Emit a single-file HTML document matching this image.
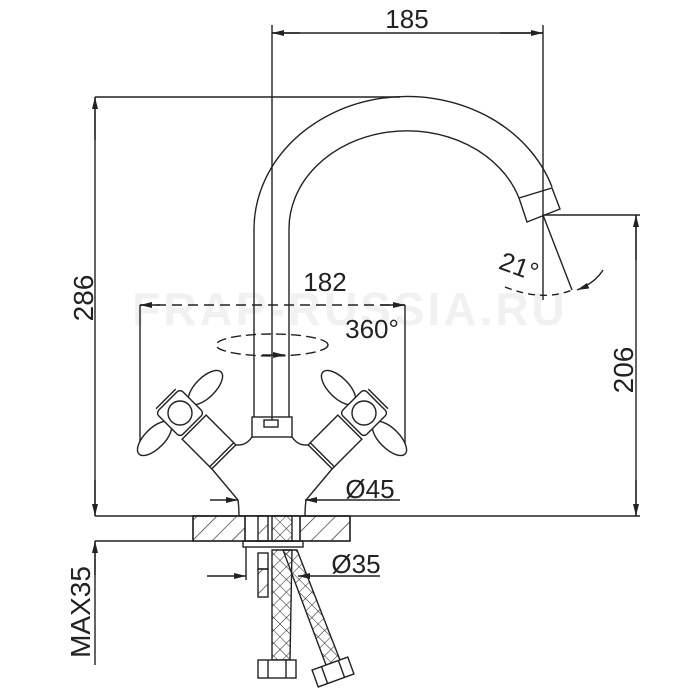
<!DOCTYPE html>
<html><head><meta charset="utf-8"><style>
html,body{margin:0;padding:0;background:#fff;width:700px;height:700px;overflow:hidden}
svg{display:block}
text{font-family:"Liberation Sans",sans-serif;fill:#222}
</style></head><body>
<svg width="700" height="700" viewBox="0 0 700 700" xmlns="http://www.w3.org/2000/svg">
<defs>
<marker id="ar" markerWidth="12" markerHeight="6" refX="12" refY="3" orient="auto" markerUnits="userSpaceOnUse"><path d="M0,0 L12,3 L0,6 Z" fill="#222"/></marker>
<pattern id="hatch" width="14" height="14" patternUnits="userSpaceOnUse" patternTransform="rotate(45)"><line x1="0" y1="0" x2="0" y2="14" stroke="#222" stroke-width="1.3"/></pattern>
<pattern id="mesh" width="9" height="9" patternUnits="userSpaceOnUse" patternTransform="rotate(45)"><path d="M0,0 L0,9 M0,0 L9,0" stroke="#222" stroke-width="1"/></pattern>
<g id="valve" stroke="#222" stroke-width="1.4" fill="#fff">
  <rect x="20" y="-17" width="42" height="34"/>
  <line x1="59" y1="-17" x2="59" y2="17"/>
  <ellipse cx="0" cy="-36" rx="10" ry="22"/>
  <ellipse cx="0" cy="36" rx="10" ry="22"/>
  <rect x="-17" y="-17" width="34" height="34" rx="4"/>
  <line x1="-20" y1="-14" x2="-20" y2="14"/>
  <circle cx="0" cy="0" r="12"/>
</g>
<g id="half" stroke="#222" stroke-width="1.4" fill="none">
  <path d="M252,437 Q246,446 236,445"/>
  <path d="M212,469 L238,500 Q239,508 239,516"/>
  <use href="#valve" transform="translate(180,413) rotate(45)"/>
</g>
</defs>
<text x="350" y="325" font-size="46" font-weight="bold" text-anchor="middle" letter-spacing="3" style="fill:#f1f1f1">FRAP-RUSSIA.RU</text>
<g stroke="#222" stroke-width="1.4" fill="none">
<line x1="272" y1="25" x2="272" y2="420"/>
<line x1="543" y1="25" x2="543" y2="300"/>
<line x1="95" y1="97" x2="400" y2="97"/>
<line x1="95" y1="97" x2="95" y2="516"/>
<line x1="543" y1="215" x2="640" y2="215"/>
<line x1="636" y1="215" x2="636" y2="516"/>
<line x1="95" y1="516" x2="640" y2="516"/>
<line x1="95" y1="541" x2="193" y2="541"/>
<line x1="95" y1="541" x2="95" y2="665"/>
<line x1="543" y1="215" x2="572" y2="290"/>
<path d="M505,287 Q543,302 572,290" stroke-dasharray="7,5"/>
<line x1="140" y1="305" x2="405" y2="305" stroke-dasharray="10,6"/>
<line x1="140" y1="305" x2="140" y2="445"/>
<line x1="405" y1="305" x2="405" y2="445"/>
<ellipse cx="272" cy="345" rx="56" ry="11" stroke-dasharray="10,5"/>
<path d="M254,417 L254,230 A153,133 0 0 1 552,187"/>
<path d="M289,417 L289,230 A118,98 0 0 1 519,198"/>
<path d="M519,198 L552,188 L560,209 L527,222 Z"/>
<rect x="252" y="417" width="40" height="20"/>
<rect x="264" y="420" width="14" height="7"/>
</g>
<use href="#half"/>
<use href="#half" transform="translate(544,0) scale(-1,1)"/>
<g stroke="#222" stroke-width="1.4" fill="none">
<rect x="193" y="516" width="157" height="25" fill="url(#hatch)"/>
<rect x="245" y="516" width="55" height="25" fill="#fff"/>
<rect x="193" y="516" width="157" height="25"/>
<line x1="245" y1="516" x2="245" y2="541"/><line x1="300" y1="516" x2="300" y2="541"/>
<rect x="258" y="516" width="10" height="25" fill="url(#hatch)"/>
<rect x="272" y="516" width="20" height="25" fill="url(#mesh)"/>
<rect x="243" y="541" width="60" height="6"/>
<line x1="246" y1="547" x2="246" y2="580"/>
<rect x="258" y="553" width="10" height="16"/>
<rect x="258" y="569" width="10" height="28" fill="url(#hatch)"/>
<path d="M272,550 L292,550 L290,660 L272,660 Z" fill="url(#mesh)"/>
<path d="M283,550 L297,550 L340,660 L326,665 Z" fill="url(#mesh)"/>
<rect x="258" y="660" width="38" height="18" fill="#fff"/>
<line x1="268" y1="660" x2="268" y2="678"/><line x1="286" y1="660" x2="286" y2="678"/>
<g transform="rotate(-20 333 672)"><rect x="314" y="663" width="38" height="18" fill="#fff"/><line x1="324" y1="663" x2="324" y2="681"/><line x1="342" y1="663" x2="342" y2="681"/></g>
<line x1="210" y1="500" x2="238" y2="500" marker-end="url(#ar)"/>
<line x1="400" y1="500" x2="305" y2="500" marker-end="url(#ar)"/>
<line x1="207" y1="576" x2="246" y2="576" marker-end="url(#ar)"/>
<line x1="380" y1="576" x2="298" y2="576" marker-end="url(#ar)"/>
<line x1="272" y1="33" x2="543" y2="33"/>
<line x1="300" y1="33" x2="272" y2="33" marker-end="url(#ar)"/>
<line x1="500" y1="33" x2="543" y2="33" marker-end="url(#ar)"/>
<line x1="95" y1="140" x2="95" y2="97" marker-end="url(#ar)"/>
<line x1="95" y1="480" x2="95" y2="516" marker-end="url(#ar)"/>
<line x1="636" y1="260" x2="636" y2="215" marker-end="url(#ar)"/>
<line x1="636" y1="480" x2="636" y2="516" marker-end="url(#ar)"/>
<line x1="95" y1="575" x2="95" y2="541" marker-end="url(#ar)"/>
<line x1="380" y1="305" x2="405" y2="305" marker-end="url(#ar)"/>
<line x1="160" y1="305" x2="140" y2="305" marker-end="url(#ar)"/>
<line x1="262" y1="355" x2="285" y2="355" marker-end="url(#ar)"/>
<path d="M603,270 Q595,283 577,290" marker-end="url(#ar)"/>
</g>
<text x="407" y="28" font-size="26" text-anchor="middle">185</text>
<text transform="translate(93,298) rotate(-90)" font-size="28" text-anchor="middle">286</text>
<text transform="translate(633,370) rotate(-90)" font-size="28" text-anchor="middle">206</text>
<text x="325" y="291" font-size="26" text-anchor="middle">182</text>
<text x="372" y="338" font-size="26" text-anchor="middle">360°</text>
<text transform="translate(516,275) rotate(20)" font-size="26" text-anchor="middle">21°</text>
<text x="370" y="498" font-size="26" text-anchor="middle">Ø45</text>
<text x="356" y="573" font-size="26" text-anchor="middle">Ø35</text>
<text transform="translate(90,612) rotate(-90)" font-size="28" text-anchor="middle">MAX35</text>
</svg>
</body></html>
